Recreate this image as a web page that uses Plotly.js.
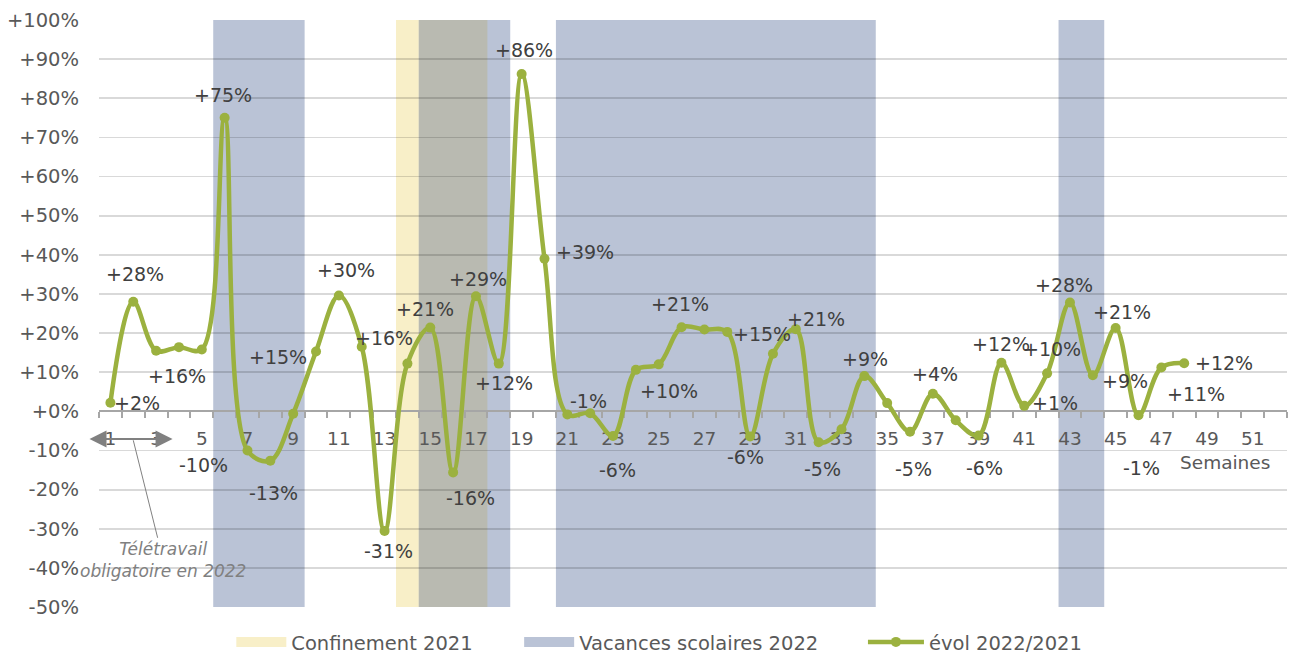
<!DOCTYPE html>
<html>
<head>
<meta charset="utf-8">
<script src="https://cdn.plot.ly/plotly-3.0.1.min.js"></script>
<style>
  html, body { margin: 0; padding: 0; background: #ffffff; }
  #chart { width: 1299px; height: 653px; }
</style>
</head>
<body>
<div id="chart"></div>
<script>
// ---- Data ----
const weeks = [1,2,3,4,5,6,7,8,9,10,11,12,13,14,15,16,17,18,19,20,21,22,23,24,25,26,27,28,29,30,31,32,33,34,35,36,37,38,39,40,41,42,43,44,45,46,47,48];
const evol = [2.2,28,15.5,16.4,15.8,75,-10,-12.6,-0.6,15.3,29.6,16.5,-30.6,12.2,21.4,-15.6,29.4,12.2,86.2,39,-0.8,-0.5,-6.3,10.6,12,21.5,20.9,20.3,-6.4,14.7,21,-7.9,-4.6,9,2.1,-5.2,4.5,-2.3,-6.2,12.4,1.4,9.7,27.8,9.2,21.3,-1,11.2,12.3];

const labelWeeks = [1,2,4,6,7,8,10,11,12,13,15,16,17,18,19,20,22,23,24,26,29,30,31,33,34,36,37,39,40,41,42,43,44,45,46,47,48];
const labelTexts = ['+2%','+28%','+16%','+75%','-10%','-13%','+15%','+30%','+16%','-31%','+21%','-16%','+29%','+12%','+86%','+39%','-1%','-6%','+10%','+21%','-6%','+15%','+21%','-5%','+9%','-5%','+4%','-6%','+12%','+1%','+10%','+28%','+9%','+21%','-1%','+11%','+12%'];

const confStart = [14];
const confEnd = [17];
const vacStart = [6, 15, 21, 43];
const vacEnd = [9, 18, 34, 44];

const xTickVals = [1,3,5,7,9,11,13,15,17,19,21,23,25,27,29,31,33,35,37,39,41,43,45,47,49,51];
const xTickText = ['1','3','5','7','9','11','13','15','17','19','21','23','25','27','29','31','33','35','37','39','41','43','45','47','49','51'];
const yTickVals = [100,90,80,70,60,50,40,30,20,10,0,-10,-20,-30,-40,-50];
const yTickText = ['+100%','+90%','+80%','+70%','+60%','+50%','+40%','+30%','+20%','+10%','+0%','-10%','-20%','-30%','-40%','-50%'];

const seriesNames = ['Confinement 2021', 'Vacances scolaires 2022', 'évol 2022/2021'];

// ---- Styles ----
const FONT = 'DejaVu Sans, Arial, sans-serif';
const GREEN = '#9bb13f';
const YELLOW = '#f8efc8';
const BLUE = '#bac3d6';
const OVERLAP = '#b9bab1';
const AXIS_TXT = '#595959';
const LABEL_TXT = '#404040';

// label offsets in px (dx right, dy down) keyed by week
const labelOffsets = {
  1:[27,0], 2:[2,-28], 4:[-2,29], 6:[-2,-23], 7:[-44,15], 8:[3,32], 10:[-38,6],
  11:[7,-26], 12:[22,-9], 13:[4,20], 15:[-5,-19], 16:[17,26], 17:[2,-17],
  18:[5,19], 19:[2,-24], 20:[40,-7], 22:[-2,-12], 23:[4,34], 24:[33,21],
  26:[-2,-23], 29:[-5,21], 30:[-11,-20], 31:[20,-10], 33:[-19,40], 34:[1,-17],
  36:[3,37], 37:[2,-20], 39:[6,32], 40:[0,-19], 41:[31,-3], 42:[5,-24],
  43:[-6,-18], 44:[32,6], 45:[6,-16], 46:[3,53], 47:[35,26], 48:[40,0]
};

// ---- Shapes (bands) ----
const shapes = [];
function band(x0, x1, color) {
  shapes.push({type:'rect', xref:'x', yref:'y', x0:x0, x1:x1, y0:-50, y1:100,
    fillcolor:color, line:{width:0}, layer:'below'});
}
confStart.forEach((s,i) => band(s-0.5, confEnd[i]+0.5, YELLOW));
vacStart.forEach((s,i) => band(s-0.5, vacEnd[i]+0.5, BLUE));
confStart.forEach((cs,i) => {
  vacStart.forEach((vs,j) => {
    const a = Math.max(cs, vs), b = Math.min(confEnd[i], vacEnd[j]);
    if (a <= b) band(a-0.5, b+0.5, OVERLAP);
  });
});

// ---- Annotations ----
const annotations = labelWeeks.map((w,i) => {
  const off = labelOffsets[w] || [0,-20];
  return {x:w, y:evol[weeks.indexOf(w)], xref:'x', yref:'y', text:labelTexts[i],
    showarrow:false, xshift:off[0], yshift:-off[1],
    font:{family:FONT, size:19, color:LABEL_TXT}};
});
annotations.push({x:49.8, y:-13, xref:'x', yref:'y', text:'Semaines', showarrow:false,
  font:{family:FONT, size:18.5, color:AXIS_TXT}});
annotations.push({x:3.72, y:-7.1, ax:0.02, ay:-7.1, xref:'x', yref:'y', axref:'x', ayref:'y',
  text:'', showarrow:true, arrowside:'end+start', arrowhead:2, startarrowhead:2,
  arrowsize:1.7, startarrowsize:1.7, arrowwidth:2, arrowcolor:'#808080', standoff:0, startstandoff:0});
annotations.push({x:2.0, y:-7.4, xref:'x', yref:'y', ax:30, ay:120,
  text:'<i>Télétravail</i><br><i>obligatoire en 2022</i>', showarrow:true, arrowhead:0,
  arrowwidth:1, arrowcolor:'#808080', align:'center',
  font:{family:FONT, size:17, color:'#808080'}});

// ---- Traces ----
const traces = [
  {type:'scatter', mode:'lines', x:[null], y:[null], name:seriesNames[0], legend:'legend',
    line:{color:YELLOW, width:12}, hoverinfo:'skip'},
  {type:'scatter', mode:'lines', x:[null], y:[null], name:seriesNames[1], legend:'legend2',
    line:{color:BLUE, width:12}, hoverinfo:'skip'},
  {type:'scatter', mode:'lines+markers', x:weeks, y:evol, name:seriesNames[2], legend:'legend3',
    line:{color:GREEN, width:4.5, shape:'spline', smoothing:1},
    marker:{color:GREEN, size:10}, cliponaxis:false}
];

function legendAt(px, w) {
  return {orientation:'h', x:(px-98.6)/1188.7, xanchor:'left', y:-0.06, yanchor:'middle',
    itemwidth:w, font:{family:FONT, size:19.5, color:AXIS_TXT}, bgcolor:'rgba(0,0,0,0)'};
}

const layout = {
  width:1299, height:653,
  margin:{l:99, r:12, t:20, b:46, autoexpand:false},
  paper_bgcolor:'#ffffff', plot_bgcolor:'rgba(0,0,0,0)',
  font:{family:FONT, size:18, color:AXIS_TXT},
  showlegend:true,
  legend:legendAt(231, 50),
  legend2:legendAt(519, 50),
  legend3:legendAt(863, 56),
  xaxis:{range:[0.5,52.5], anchor:'free', position:1/3, showgrid:false, zeroline:false,
    showline:true, linecolor:'#a6a6a6', linewidth:2,
    tickmode:'array', tickvals:xTickVals, ticktext:xTickText,
    ticks:'outside', ticklen:6, tickcolor:'rgba(0,0,0,0)', ticklabelstandoff:4,
    tickfont:{family:FONT, size:18.5, color:AXIS_TXT},
    minor:{ticks:'outside', ticklen:6, tickwidth:2, tickcolor:'#a6a6a6', tick0:0.5, dtick:1, showgrid:false},
    layer:'below traces', fixedrange:true},
  yaxis:{range:[-50,100], showgrid:true, gridcolor:'rgba(0,0,0,0.15)', gridwidth:1.8,
    zeroline:false, showline:false, tickmode:'array', tickvals:yTickVals, ticktext:yTickText,
    ticks:'', ticklabelstandoff:19, tickfont:{family:FONT, size:19.5, color:AXIS_TXT}, fixedrange:true},
  shapes:shapes,
  annotations:annotations
};

Plotly.newPlot('chart', traces, layout, {displayModeBar:false, staticPlot:true});
</script>
</body>
</html>
